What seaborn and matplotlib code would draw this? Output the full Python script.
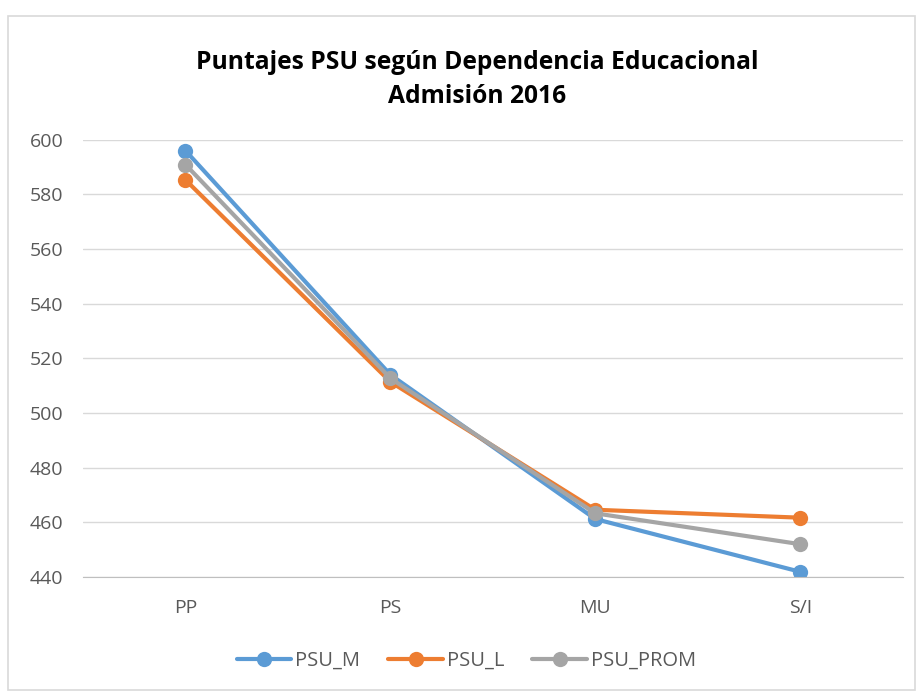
import pandas as pd
import seaborn as sns
import matplotlib.pyplot as plt
from matplotlib.patches import Rectangle

# datos
dependencia = ["PP", "PS", "MU", "S/I"]
psu_m = [596.0, 514.0, 461.2, 441.9]
psu_l = [585.3, 511.4, 464.6, 461.7]
psu_prom = [590.9, 512.7, 463.3, 452.0]

df = pd.DataFrame({
    "dep": dependencia * 3,
    "puntaje": psu_m + psu_l + psu_prom,
    "serie": ["PSU_M"] * 4 + ["PSU_L"] * 4 + ["PSU_PROM"] * 4,
})

sns.set_style("white")
plt.rcParams["font.family"] = ["Open Sans", "DejaVu Sans"]

fig = plt.figure(figsize=(9.18, 6.93), dpi=100)
ax = fig.add_axes([0.0904, 0.1674, 0.893, 0.631])

colores = {"PSU_M": "#5B9BD5", "PSU_L": "#ED7D31", "PSU_PROM": "#A5A5A5"}
sns.lineplot(data=df, x="dep", y="puntaje", hue="serie", palette=colores,
             marker="o", markersize=11, markeredgewidth=0, linewidth=3,
             sort=False, ax=ax)

ax.set_xlim(-0.5, 3.5)
ax.set_ylim(440, 600)
ax.set_yticks(range(440, 601, 20))
ax.yaxis.grid(True, color="#D9D9D9", linewidth=1)
ax.set_axisbelow(True)
for s in ["top", "right", "left"]:
    ax.spines[s].set_visible(False)
ax.spines["bottom"].set_color("#BFBFBF")
ax.tick_params(axis="both", length=0, labelsize=14, labelcolor="#595959")
ax.tick_params(axis="x", pad=16)
ax.tick_params(axis="y", pad=14)
ax.set_xlabel("")
ax.set_ylabel("")

fig.text(0.52, 0.885, "Puntajes PSU según Dependencia Educacional\nAdmisión 2016",
         ha="center", va="center", fontsize=17.7, fontweight="bold",
         color="#000000", linespacing=1.5)

ax.get_legend().remove()
handles, labels = ax.get_legend_handles_labels()
fig.legend(handles, labels, loc="center", bbox_to_anchor=(0.508, 0.046), ncol=3,
           frameon=False, fontsize=14.5, labelcolor="#595959", handlelength=2.7,
           columnspacing=1.4, handletextpad=0.2)

fig.patches.append(Rectangle((0.009, 0.004), 0.988, 0.973, transform=fig.transFigure,
                             fill=False, edgecolor="#D9D9D9", linewidth=1.2))

fig.savefig("out.png", dpi=100)
